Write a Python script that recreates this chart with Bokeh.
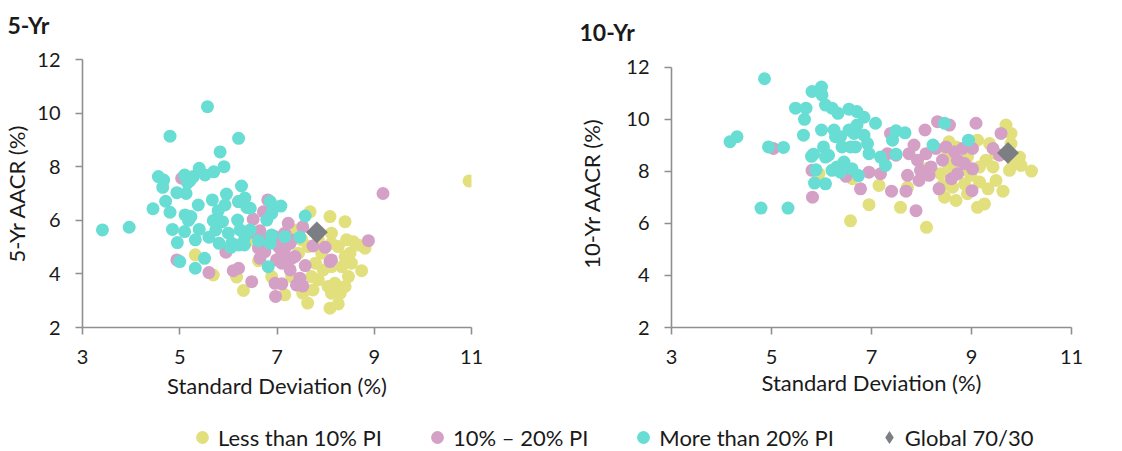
from bokeh.plotting import figure
from bokeh.models import Range1d, FixedTicker, ColumnDataSource, Legend, LegendItem, Label
from bokeh.layouts import column, row
from bokeh.embed import file_html
from bokeh.resources import INLINE
import numpy as np

# ---------------- data: 5-Yr ----------------
x5_lt = [10.95, 7.68, 8.09, 8.40, 5.32, 5.69, 6.17, 6.31, 6.62, 7.16, 7.63, 8.09, 8.26, 8.74, 8.81, 8.57,
         8.40, 8.26, 8.12, 7.92, 7.79, 7.71, 7.85, 8.05, 8.19, 8.40, 8.47, 8.33, 8.12, 7.95, 8.30, 8.12,
         7.74, 7.53, 7.44, 7.51, 7.41, 7.64, 7.85, 8.50, 8.53, 7.30, 6.89, 6.48, 6.34, 8.12, 8.43, 8.67]
y5_lt = [7.47, 6.32, 6.14, 5.95, 4.71, 3.96, 3.88, 3.38, 4.49, 3.22, 2.91, 2.72, 2.88, 4.12, 4.96, 5.20,
         4.65, 5.02, 5.14, 4.77, 4.40, 3.90, 3.78, 3.53, 3.65, 3.53, 3.90, 4.27, 4.27, 4.15, 3.28, 3.28,
         3.40, 3.28, 4.77, 5.27, 5.64, 5.02, 5.27, 4.77, 4.40, 3.90, 3.90, 5.27, 5.14, 5.52, 5.27, 5.08]

x5_mid = [9.18, 8.88, 5.04, 4.94, 5.60, 5.95, 6.10, 6.21, 6.48, 6.51, 6.21, 6.65, 6.72, 6.81, 6.62, 6.65,
          6.75, 6.96, 7.03, 6.99, 6.96, 7.10, 6.97, 7.10, 7.16, 7.23, 7.27, 7.30, 7.27, 7.37, 7.40, 7.47,
          7.53, 7.58, 7.53, 7.74, 7.99, 8.09, 8.12, 7.16, 7.10, 6.82, 6.55, 7.30]
y5_mid = [7.00, 5.24, 7.57, 4.52, 4.05, 4.81, 4.12, 4.21, 3.71, 6.04, 6.70, 5.61, 6.32, 6.76, 4.96, 4.58,
          4.83, 5.39, 5.02, 4.52, 3.65, 3.63, 3.16, 4.77, 5.52, 5.89, 5.14, 4.58, 4.15, 4.65, 3.59, 3.84,
          3.55, 4.31, 5.76, 5.04, 4.99, 4.46, 4.52, 4.96, 4.40, 5.27, 5.52, 5.27]

x5_hi = [3.41, 3.96, 4.45, 4.56, 4.67, 4.65, 4.71, 4.80, 4.80, 4.85, 4.94, 4.95, 5.00, 5.10, 5.13, 5.16,
         5.21, 5.28, 5.11, 5.23, 5.18, 5.10, 5.32, 5.32, 5.40, 5.38, 5.40, 5.52, 5.51, 5.57, 5.60, 5.70,
         5.67, 5.69, 5.74, 5.79, 5.83, 5.81, 5.88, 5.91, 5.96, 5.93, 6.00, 6.05, 6.19, 6.21, 6.21, 6.27,
         6.24, 6.34, 6.33, 6.38, 6.45, 6.34, 6.21, 6.45, 6.62, 6.82, 6.86, 6.89, 6.96, 6.79, 6.89, 6.86,
         7.08, 7.16, 7.47, 7.58, 6.07]
y5_hi = [5.64, 5.74, 6.43, 7.63, 7.50, 7.23, 6.71, 9.14, 6.30, 5.66, 7.03, 5.17, 4.46, 7.69, 7.00, 7.40,
         7.48, 7.63, 6.20, 6.14, 6.00, 5.58, 5.27, 4.21, 7.94, 6.57, 5.66, 7.69, 4.58, 10.24, 5.37, 7.81,
         6.76, 5.99, 5.64, 6.36, 8.55, 5.14, 5.95, 8.00, 6.98, 6.57, 5.52, 4.99, 6.01, 9.06, 6.70, 7.28,
         5.64, 6.83, 5.08, 6.48, 5.64, 5.39, 5.08, 6.45, 5.24, 4.27, 6.70, 6.26, 6.51, 6.01, 5.45, 5.14,
         6.53, 5.39, 5.37, 6.16, 5.14]

x5_bm = [7.82]
y5_bm = [5.55]

# ---------------- data: 10-Yr ----------------
x10_lt = [6.58, 6.95, 7.15, 7.58, 7.72, 8.10, 10.20, 9.69, 9.63, 9.33, 9.26, 9.12, 8.92, 8.69, 8.46, 8.42,
          8.62, 8.86, 8.55, 8.69, 9.12, 9.36, 9.29, 9.16, 9.43, 9.76, 9.79, 9.79, 9.96, 9.99, 9.83, 8.99,
          9.16, 8.79, 8.55, 8.38, 8.09, 8.49, 5.95, 6.62, 9.49, 8.92, 9.49]
y10_lt = [6.10, 6.72, 7.46, 6.62, 7.39, 5.85, 8.01, 9.78, 7.24, 7.33, 6.75, 6.62, 7.14, 6.88, 7.01, 7.46,
          7.39, 7.52, 9.14, 8.94, 9.20, 9.07, 8.43, 8.17, 8.17, 8.04, 9.46, 9.07, 8.55, 8.23, 8.30, 7.85,
          7.59, 8.04, 8.17, 7.91, 8.10, 8.55, 7.91, 7.72, 7.65, 8.55, 8.68]

x10_mid = [5.04, 5.81, 5.82, 6.49, 6.78, 6.95, 7.18, 7.40, 7.69, 7.72, 7.89, 7.95, 8.15, 8.19, 8.35, 7.85,
           8.07, 8.32, 8.56, 9.09, 9.59, 9.43, 9.56, 9.02, 9.01, 7.75, 7.92, 8.09, 8.29, 8.49, 8.66, 8.72,
           8.82, 9.02, 8.60, 8.72, 8.86, 8.42, 7.49, 7.32, 7.38, 7.98]
y10_mid = [8.88, 8.04, 7.01, 7.81, 7.33, 7.97, 7.91, 7.24, 7.24, 7.85, 6.49, 7.65, 7.85, 8.17, 7.33, 9.01,
           9.59, 9.91, 9.78, 9.85, 9.46, 8.88, 8.62, 8.10, 7.26, 8.68, 8.43, 8.68, 8.88, 8.94, 8.75, 8.43,
           8.88, 8.88, 7.72, 7.91, 8.30, 8.43, 8.62, 8.68, 9.46, 8.04]

x10_hi = [4.17, 4.31, 4.86, 4.79, 5.33, 4.94, 5.24, 5.48, 5.69, 5.66, 5.64, 5.81, 6.00, 6.01, 6.08, 6.21,
          6.33, 6.55, 6.71, 6.85, 7.08, 5.80, 5.84, 5.86, 6.08, 5.89, 6.00, 6.04, 6.14, 6.25, 6.28, 6.38,
          6.31, 6.21, 6.38, 6.55, 6.65, 6.58, 6.68, 6.61, 6.74, 6.85, 6.92, 6.95, 6.71, 7.18, 7.28, 7.42,
          7.49, 7.67, 7.49, 8.23, 8.46, 8.94, 6.08, 6.41, 6.45]
y10_hi = [9.14, 9.33, 11.56, 6.59, 6.59, 8.94, 8.92, 10.43, 10.43, 10.00, 9.39, 11.07, 11.24, 10.94, 10.55, 10.43,
          10.23, 10.39, 10.30, 10.08, 9.85, 8.58, 8.66, 7.55, 7.52, 8.06, 9.59, 8.94, 8.62, 9.59, 9.33, 9.33,
          8.17, 8.04, 7.97, 9.59, 9.46, 8.94, 8.94, 8.10, 7.84, 9.39, 9.07, 8.68, 9.78, 8.55, 8.23, 9.20,
          9.56, 9.48, 8.66, 9.01, 9.85, 9.20, 8.55, 8.94, 8.36]

x10_bm = [9.73]
y10_bm = [8.71]

x_ticks = [3, 5, 7, 9, 11]
y_ticks = [2, 4, 6, 8, 10, 12]
panel_titles = ["5-Yr", "10-Yr"]
series_names = ["Less than 10% PI", "10% \u2013 20% PI", "More than 20% PI", "Global 70/30"]

# ---------------- style ----------------
C_LT = "#E2DF7D"
C_MID = "#D4A0C6"
C_HI = "#68DDD4"
C_BM = "#7B7E82"
AXIS_C = "#8f8f8f"
TXT = "#1a1a1a"
FONT = "Lato"


def strip(w, h):
    s = figure(width=w, height=h, output_backend="svg", toolbar_location=None,
               x_range=Range1d(0, 1), y_range=Range1d(0, 1),
               min_border_left=0, min_border_right=0, min_border_top=0, min_border_bottom=0)
    s.axis.visible = False
    s.grid.visible = False
    s.outline_line_color = None
    return s


def make_panel(ylab, xs, ys, fw, fh, ytop, bl, br, bt, bb, ylab_standoff, xlab_so, xaxlab_so):
    p = figure(frame_width=fw, frame_height=fh, output_backend="svg", toolbar_location=None,
               x_range=Range1d(3, 11), y_range=Range1d(2, ytop),
               min_border_left=bl, min_border_right=br, min_border_top=bt, min_border_bottom=bb)
    p.outline_line_color = None
    p.grid.visible = False
    p.background_fill_color = "white"
    p.border_fill_color = "white"
    for ax in (p.xaxis[0], p.yaxis[0]):
        ax.axis_line_color = AXIS_C
        ax.axis_line_width = 1.6
        ax.major_tick_line_color = AXIS_C
        ax.major_tick_line_width = 1.6
        ax.major_tick_in = 0
        ax.major_tick_out = 7
        ax.minor_tick_line_color = None
        ax.major_label_text_font = FONT
        ax.major_label_text_font_size = "20px"
        ax.major_label_text_color = TXT
        ax.axis_label_text_font = FONT
        ax.axis_label_text_font_size = "22px"
        ax.axis_label_text_font_style = "normal"
        ax.axis_label_text_color = TXT
    p.xaxis.ticker = FixedTicker(ticks=x_ticks)
    p.yaxis.ticker = FixedTicker(ticks=y_ticks)
    p.yaxis.bounds = (min(y_ticks), max(y_ticks))
    p.xaxis.axis_label = "Standard Deviation (%)"
    p.yaxis.axis_label = ylab
    p.xaxis.major_label_standoff = xlab_so
    p.yaxis.major_label_standoff = 15
    p.xaxis.axis_label_standoff = xaxlab_so
    p.yaxis.axis_label_standoff = ylab_standoff

    (xl, yl), (xm, ym), (xh, yh), (xb, yb) = list(zip(xs, ys))
    p.scatter(xl, yl, size=13, color=C_LT, line_color=None)
    p.scatter(xm, ym, size=13, color=C_MID, line_color=None)
    p.scatter(xh, yh, size=13, color=C_HI, line_color=None)
    p.scatter(xb, yb, size=15.5, marker="square", angle=np.pi / 4, color=C_BM, line_color=None)
    return p


# title strip
pt = strip(1106, 48)
for txt, tx, ty in zip(panel_titles, [7, 579], [24, 17]):
    pt.add_layout(Label(x=tx, y=ty, x_units="screen", y_units="screen", text=txt,
                        text_font=FONT, text_font_size="23px", text_font_style="bold",
                        text_color=TXT, text_align="left", text_baseline="middle"))

p1 = make_panel("5-Yr AACR (%)",
                [x5_lt, x5_mid, x5_hi, x5_bm], [y5_lt, y5_mid, y5_hi, y5_bm],
                389, 268, 12, 76, 88, 11, 80, 4, 15, 5)
p2 = make_panel("10-Yr AACR (%)",
                [x10_lt, x10_mid, x10_hi, x10_bm], [y10_lt, y10_mid, y10_hi, y10_bm],
                400, 268, 12.3, 112, 41, 11, 80, 18, 15, 2)

# legend strip
pl = strip(1106, 43)
nan_src = lambda: ColumnDataSource(dict(x=[float("nan")], y=[float("nan")]))
r1 = pl.scatter("x", "y", source=nan_src(), size=13, color=C_LT, line_color=None)
r2 = pl.scatter("x", "y", source=nan_src(), size=13, color=C_MID, line_color=None)
r3 = pl.scatter("x", "y", source=nan_src(), size=13, color=C_HI, line_color=None)
r4 = pl.scatter("x", "y", source=nan_src(), size=13, marker="diamond", color=C_BM, line_color=None)
leg = Legend(items=[LegendItem(label=series_names[i], renderers=[r]) for i, r in enumerate([r1, r2, r3, r4])],
             orientation="horizontal", location=(186, -3),
             glyph_width=32, glyph_height=32, label_standoff=-3, spacing=39,
             padding=0, margin=0, border_line_color=None, background_fill_alpha=0,
             label_text_font=FONT, label_text_font_size="22px", label_text_color=TXT)
pl.add_layout(leg, "center")

layout = column(pt, row(p1, p2), pl)
open("out.html", "w").write(file_html(layout, INLINE))
